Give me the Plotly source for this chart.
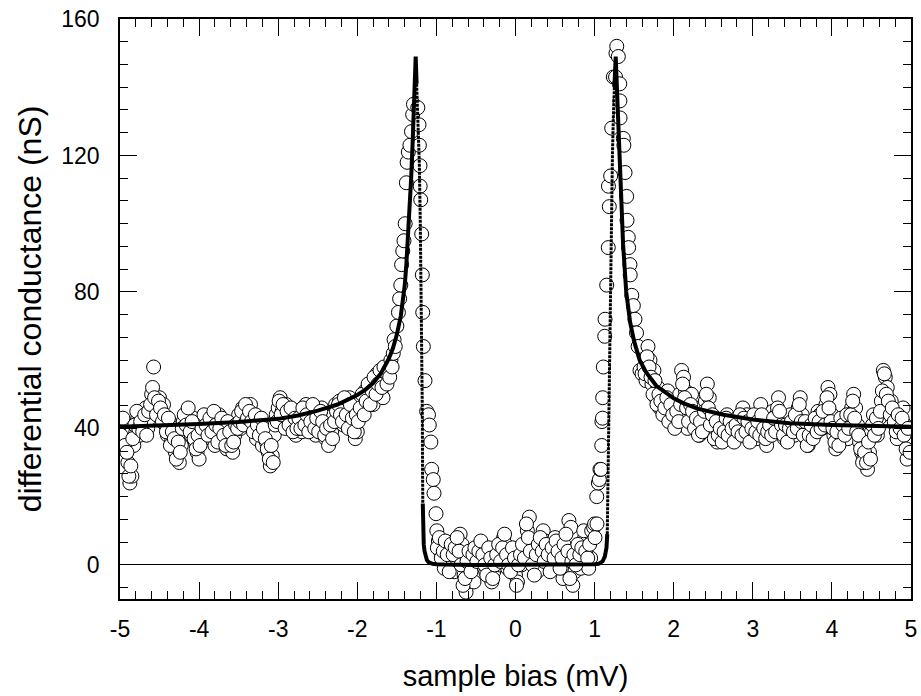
import plotly.graph_objects as go

# ---------------- data ----------------
# measured dI/dV, left background (mV, nS)
bias_left_tail = [
    -5.000, -4.975, -4.950, -4.925, -4.900, -4.875, -4.850, -4.825, -4.800, -4.775,
    -4.750, -4.725, -4.700, -4.675, -4.650, -4.625, -4.600, -4.575, -4.550, -4.525,
    -4.500, -4.475, -4.450, -4.425, -4.400, -4.375, -4.350, -4.325, -4.300, -4.275,
    -4.250, -4.225, -4.200, -4.175, -4.150, -4.125, -4.100, -4.075, -4.050, -4.025,
    -4.000, -3.975, -3.950, -3.925, -3.900, -3.875, -3.850, -3.825, -3.800, -3.775,
    -3.750, -3.725, -3.700, -3.675, -3.650, -3.625, -3.600, -3.575, -3.550, -3.525,
    -3.500, -3.475, -3.450, -3.425, -3.400, -3.375, -3.350, -3.325, -3.300, -3.275,
    -3.250, -3.225, -3.200, -3.175, -3.150, -3.125, -3.100, -3.075, -3.050, -3.025,
    -3.000, -2.975, -2.950, -2.925, -2.900, -2.875, -2.850, -2.825, -2.800, -2.775,
    -2.750, -2.725, -2.700, -2.675, -2.650, -2.625, -2.600, -2.575, -2.550, -2.525,
    -2.500, -2.475, -2.450, -2.425, -2.400, -2.375, -2.350, -2.325, -2.300, -2.275,
    -2.250, -2.225, -2.200, -2.175, -2.150, -2.125, -2.100, -2.075, -2.050, -2.025,
    -2.000, -1.975, -1.950, -1.925, -1.900, -1.875, -1.850, -1.825, -1.800, -1.775,
    -1.750, -1.725, -1.700, -1.675, -1.650,
]
cond_left_tail = [
    41, 37, 42, 36, 30, 24, 26, 35, 39, 43,
    38, 44, 41, 46, 40, 43, 50, 58, 47, 45,
    49, 44, 47, 41, 38, 42, 36, 40, 33, 38,
    30, 35, 42, 39, 44, 41, 38, 43, 36, 33,
    31, 37, 42, 39, 43, 40, 37, 42, 35, 39,
    44, 38, 41, 36, 34, 40, 37, 33, 38, 42,
    44, 40, 46, 43, 45, 41, 47, 44, 40, 37,
    42, 39, 35, 41, 36, 33, 29, 32, 38, 44,
    46, 49, 45, 42, 47, 43, 40, 44, 41, 38,
    45, 42, 39, 44, 47, 43, 40, 45, 42, 38,
    44, 41, 46, 40, 37, 42, 36, 39, 44, 47,
    43, 48, 45, 41, 46, 43, 49, 45, 41, 37,
    39, 44, 48, 46, 51, 49, 53, 50, 47, 52,
    56, 54, 51, 49, 55,
]
bias_left_tail_b = [
    -4.988, -4.963, -4.938, -4.913, -4.888, -4.863, -4.838, -4.813, -4.788, -4.763,
    -4.738, -4.713, -4.688, -4.663, -4.638, -4.613, -4.588, -4.563, -4.538, -4.513,
    -4.488, -4.463, -4.438, -4.413, -4.388, -4.363, -4.338, -4.313, -4.288, -4.263,
    -4.238, -4.213, -4.188, -4.163, -4.138, -4.113, -4.088, -4.063, -4.038, -4.013,
    -3.988, -3.963, -3.938, -3.913, -3.888, -3.863, -3.838, -3.813, -3.788, -3.763,
    -3.738, -3.713, -3.688, -3.663, -3.638, -3.613, -3.588, -3.563, -3.538, -3.513,
    -3.488, -3.463, -3.438, -3.413, -3.388, -3.363, -3.338, -3.313, -3.288, -3.263,
    -3.238, -3.213, -3.188, -3.163, -3.138, -3.113, -3.088, -3.063, -3.038, -3.013,
    -2.988, -2.963, -2.938, -2.913, -2.888, -2.863, -2.838, -2.813, -2.788, -2.763,
    -2.738, -2.713, -2.688, -2.663, -2.638, -2.613, -2.588, -2.563, -2.538, -2.513,
    -2.488, -2.463, -2.438, -2.413, -2.388, -2.363, -2.338, -2.313, -2.288, -2.263,
    -2.238, -2.213, -2.188, -2.163, -2.138, -2.113, -2.088, -2.063, -2.038, -2.013,
    -1.988, -1.963, -1.938, -1.913, -1.888, -1.863, -1.838, -1.813, -1.788, -1.763,
    -1.738, -1.713, -1.688, -1.663,
]
cond_left_tail_b = [
    38, 43, 35, 33, 26, 29, 37, 41, 45, 40,
    42, 39, 44, 38, 45, 47, 52, 49, 44, 48,
    46, 42, 44, 39, 43, 35, 39, 37, 31, 36,
    33, 40, 44, 41, 46, 39, 42, 37, 34, 38,
    35, 40, 44, 41, 38, 43, 39, 45, 41, 36,
    40, 43, 38, 35, 42, 39, 35, 36, 41, 40,
    42, 45, 41, 47, 43, 45, 42, 39, 44, 41,
    38, 43, 40, 37, 34, 31, 35, 30, 41, 42,
    48, 44, 47, 40, 45, 41, 46, 39, 43, 40,
    43, 40, 46, 41, 44, 39, 42, 47, 40, 43,
    39, 45, 42, 38, 40, 35, 41, 37, 42, 45,
    47, 44, 42, 49, 44, 40, 47, 43, 39, 44,
    42, 46, 50, 44, 48, 53, 47, 51, 55, 50,
    53, 57, 52, 58,
]

# measured dI/dV, left coherence peak
bias_left_peak = [
    -1.625, -1.600, -1.590, -1.575, -1.560, -1.545, -1.535, -1.520, -1.500, -1.480,
    -1.465, -1.450, -1.440, -1.425, -1.410, -1.395, -1.380, -1.370, -1.355, -1.335,
    -1.315, -1.300, -1.290, -1.235, -1.220, -1.215, -1.207, -1.205, -1.198, -1.186,
    -1.178, -1.173, -1.165, -1.144, -1.123, -1.100, -1.090, -1.070, -1.060, -1.040,
    -1.030, -1.005, -0.995,
]
cond_left_peak = [
    53, 57, 55, 60, 58, 62, 66, 64, 70, 74,
    78, 82, 88, 92, 95, 100, 112, 118, 121, 123,
    127, 132, 135, 134, 129, 123, 117, 111, 107, 97,
    85, 74, 64, 54, 45, 44, 41, 36, 28, 25,
    21, 15, 10,
]

# measured dI/dV, inside the gap
bias_gap = [
    -0.975, -0.950, -0.925, -0.900, -0.875, -0.850, -0.825, -0.800, -0.775, -0.750,
    -0.725, -0.700, -0.675, -0.650, -0.625, -0.600, -0.575, -0.550, -0.525, -0.500,
    -0.475, -0.450, -0.425, -0.400, -0.375, -0.350, -0.325, -0.300, -0.275, -0.250,
    -0.225, -0.200, -0.175, -0.150, -0.125, -0.100, -0.075, -0.050, -0.025, 0.000,
    0.025, 0.050, 0.075, 0.100, 0.125, 0.150, 0.175, 0.200, 0.225, 0.250,
    0.275, 0.300, 0.325, 0.350, 0.375, 0.400, 0.425, 0.450, 0.475, 0.500,
    0.525, 0.550, 0.575, 0.600, 0.625, 0.650, 0.675, 0.700, 0.725, 0.750,
    0.775, 0.800, 0.825, 0.850, 0.875, 0.900, 0.925, 0.950, 0.975,
]
cond_gap = [
    7, 4, 6, -1, 3, 6, 1, 4, -2, 2,
    5, 9, 6, -3, -8, -5, -1, 2, -5, 0,
    3, 6, 5, 1, -2, 3, 0, -5, -2, 2,
    4, 0, 3, 8, 6, -1, 2, 4, 1, -3,
    -5, 2, 0, 5, 4, 10, 14, 6, 3, -1,
    -2, 2, 5, 10, 7, 3, 1, 4, 0, 8,
    5, 2, 5, -4, -1, 3, 13, 11, -6, -2,
    5, 2, -1, 4, 8, 1, -1, 2, 8,
]
bias_gap_b = [
    -0.988, -0.963, -0.938, -0.913, -0.888, -0.863, -0.838, -0.813, -0.788, -0.763,
    -0.738, -0.713, -0.688, -0.663, -0.638, -0.613, -0.588, -0.563, -0.538, -0.513,
    -0.488, -0.463, -0.438, -0.413, -0.388, -0.363, -0.338, -0.313, -0.288, -0.263,
    -0.238, -0.213, -0.188, -0.163, -0.138, -0.113, -0.088, -0.063, -0.038, -0.013,
    0.013, 0.038, 0.063, 0.088, 0.113, 0.138, 0.163, 0.188, 0.213, 0.238,
    0.263, 0.288, 0.313, 0.338, 0.363, 0.388, 0.413, 0.438, 0.463, 0.488,
    0.513, 0.538, 0.563, 0.588, 0.613, 0.638, 0.663, 0.688, 0.713, 0.738,
    0.763, 0.788, 0.813, 0.838, 0.863, 0.888, 0.913, 0.938, 0.963, 0.988,
]
cond_gap_b = [
    5, 8, 2, 4, 7, 3, -2, 6, 3, 5,
    8, 4, 0, -6, -4, 1, 4, -2, 3, 5,
    1, 4, 7, 3, 0, -3, 5, 2, -4, 0,
    3, 6, 1, 5, 9, 3, 0, -2, 5, 2,
    -6, 0, 3, 6, 2, 12, 8, 4, 0, -3,
    3, 6, 8, 4, 1, 6, 3, -2, 5, 2,
    7, 4, -1, 2, 6, 9, 4, -4, 1, 3,
    0, 6, 3, 5, 10, 4, 2, 6, 10, 11,
]

# measured dI/dV, right coherence peak
bias_right_peak = [
    1.000, 1.005, 1.027, 1.030, 1.047, 1.060, 1.068, 1.080, 1.090, 1.092,
    1.100, 1.102, 1.110, 1.128, 1.132, 1.153, 1.173, 1.175, 1.186, 1.203,
    1.216, 1.237, 1.265, 1.270, 1.280, 1.300, 1.318, 1.320, 1.322, 1.363,
    1.370, 1.385, 1.405, 1.410, 1.426, 1.430, 1.447, 1.450, 1.470, 1.490,
    1.510, 1.530, 1.550, 1.574, 1.600,
]
cond_right_peak = [
    12, 8, 20, 12, 24, 25, 28, 28, 35, 42,
    43, 49, 58, 67, 72, 82, 93, 111, 105, 114,
    128, 143, 143, 150, 152, 149, 141, 136, 131, 125,
    123, 115, 108, 101, 96, 93, 88, 85, 79, 76,
    72, 68, 64, 57, 56,
]

# measured dI/dV, right background
bias_right_tail = [
    1.625, 1.650, 1.675, 1.700, 1.725, 1.750, 1.775, 1.800, 1.825, 1.850,
    1.875, 1.900, 1.925, 1.950, 1.975, 2.000, 2.025, 2.050, 2.075, 2.100,
    2.125, 2.150, 2.175, 2.200, 2.225, 2.250, 2.275, 2.300, 2.325, 2.350,
    2.375, 2.400, 2.425, 2.450, 2.475, 2.500, 2.525, 2.550, 2.575, 2.600,
    2.625, 2.650, 2.675, 2.700, 2.725, 2.750, 2.775, 2.800, 2.825, 2.850,
    2.875, 2.900, 2.925, 2.950, 2.975, 3.000, 3.025, 3.050, 3.075, 3.100,
    3.125, 3.150, 3.175, 3.200, 3.225, 3.250, 3.275, 3.300, 3.325, 3.350,
    3.375, 3.400, 3.425, 3.450, 3.475, 3.500, 3.525, 3.550, 3.575, 3.600,
    3.625, 3.650, 3.675, 3.700, 3.725, 3.750, 3.775, 3.800, 3.825, 3.850,
    3.875, 3.900, 3.925, 3.950, 3.975, 4.000, 4.025, 4.050, 4.075, 4.100,
    4.125, 4.150, 4.175, 4.200, 4.225, 4.250, 4.275, 4.300, 4.325, 4.350,
    4.375, 4.400, 4.425, 4.450, 4.475, 4.500, 4.525, 4.550, 4.575, 4.600,
    4.625, 4.650, 4.675, 4.700, 4.725, 4.750, 4.775, 4.800, 4.825, 4.850,
    4.875, 4.900, 4.925, 4.950, 4.975, 5.000,
]
cond_right_tail = [
    58, 54, 64, 60, 53, 57, 49, 52, 46, 46,
    48, 44, 51, 45, 42, 47, 41, 44, 50, 57,
    55, 51, 40, 44, 50, 43, 46, 41, 38, 44,
    40, 48, 53, 49, 43, 40, 39, 36, 41, 38,
    42, 40, 44, 41, 37, 39, 38, 43, 40, 42,
    46, 41, 44, 39, 42, 40, 43, 37, 41, 47,
    42, 39, 35, 38, 42, 45, 41, 44, 49, 43,
    40, 37, 42, 39, 44, 41, 38, 43, 46, 49,
    44, 40, 37, 35, 39, 42, 38, 41, 45, 44,
    40, 43, 47, 52, 50, 44, 38, 34, 37, 41,
    39, 43, 40, 37, 42, 46, 50, 46, 41, 36,
    33, 31, 35, 28, 33, 39, 44, 41, 38, 43,
    48, 57, 55, 52, 47, 48, 45, 41, 37, 42,
    39, 46, 41, 31, 38, 36,
]
bias_right_tail_b = [
    1.638, 1.663, 1.688, 1.713, 1.738, 1.763, 1.788, 1.813, 1.838, 1.863,
    1.888, 1.913, 1.938, 1.963, 1.988, 2.013, 2.038, 2.063, 2.088, 2.113,
    2.138, 2.163, 2.188, 2.213, 2.238, 2.263, 2.288, 2.313, 2.338, 2.363,
    2.388, 2.413, 2.438, 2.463, 2.488, 2.513, 2.538, 2.563, 2.588, 2.613,
    2.638, 2.663, 2.688, 2.713, 2.738, 2.763, 2.788, 2.813, 2.838, 2.863,
    2.888, 2.913, 2.938, 2.963, 2.988, 3.013, 3.038, 3.063, 3.088, 3.113,
    3.138, 3.163, 3.188, 3.213, 3.238, 3.263, 3.288, 3.313, 3.338, 3.363,
    3.388, 3.413, 3.438, 3.463, 3.488, 3.513, 3.538, 3.563, 3.588, 3.613,
    3.638, 3.663, 3.688, 3.713, 3.738, 3.763, 3.788, 3.813, 3.838, 3.863,
    3.888, 3.913, 3.938, 3.963, 3.988, 4.013, 4.038, 4.063, 4.088, 4.113,
    4.138, 4.163, 4.188, 4.213, 4.238, 4.263, 4.288, 4.313, 4.338, 4.363,
    4.388, 4.413, 4.438, 4.463, 4.488, 4.513, 4.538, 4.563, 4.588, 4.613,
    4.638, 4.663, 4.688, 4.713, 4.738, 4.763, 4.788, 4.813, 4.838, 4.863,
    4.888, 4.913, 4.938, 4.963, 4.988,
]
cond_right_tail_b = [
    56, 61, 58, 55, 50, 54, 47, 50, 48, 44,
    46, 49, 42, 47, 44, 40, 45, 42, 47, 53,
    49, 46, 42, 47, 45, 40, 43, 38, 42, 39,
    45, 50, 46, 41, 44, 37, 42, 38, 40, 36,
    39, 43, 38, 42, 40, 36, 41, 39, 44, 38,
    43, 39, 42, 36, 40, 44, 39, 42, 38, 44,
    40, 37, 39, 41, 38, 43, 39, 46, 45, 41,
    38, 41, 36, 40, 42, 39, 44, 40, 47, 42,
    38, 42, 35, 38, 41, 37, 43, 39, 42, 40,
    45, 41, 49, 46, 42, 40, 36, 39, 35, 43,
    41, 38, 44, 40, 44, 48, 43, 39, 38, 34,
    30, 33, 30, 36, 31, 41, 38, 43, 40, 45,
    51, 56, 50, 48, 44, 46, 42, 39, 44, 40,
    43, 38, 34, 40, 33,
]

# fitted curve
fit_bias = [
    -5.0, -4.5, -4.0, -3.5, -3.0, -2.75, -2.5, -2.25, -2.0, -1.9,
    -1.8, -1.7, -1.6, -1.55, -1.5, -1.45, -1.42, -1.40, -1.38, -1.36,
    -1.34, -1.32, -1.30, -1.285, -1.272, -1.262, -1.250, -1.240, -1.228, -1.216,
    -1.204, -1.195, -1.188, -1.182, -1.178, -1.175, -1.172, -1.168, -1.160, -1.150,
    -1.140, -1.120, -1.100, -1.080, -1.050, -1.000, -0.900, -0.500, 0.0, 0.500,
    0.900, 1.000, 1.050, 1.070, 1.100, 1.130, 1.150, 1.160, 1.165, 1.170,
    1.178, 1.188, 1.196, 1.203, 1.210, 1.216, 1.226, 1.237, 1.250, 1.267,
    1.280, 1.300, 1.330, 1.360, 1.400, 1.450, 1.500, 1.570, 1.650, 1.780,
    2.000, 2.120, 2.300, 2.630, 3.000, 3.470, 4.000, 4.500, 5.000,
]
fit_cond = [
    40.5, 40.8, 41.3, 41.9, 42.8, 43.8, 45.2, 47.0, 49.8, 51.3,
    53.3, 56.2, 60.5, 63.5, 67.5, 73, 78, 82, 88, 95,
    103, 113, 124, 134, 143, 149, 141, 135, 128, 118,
    101, 86, 72, 62, 45, 28, 18, 11, 6, 4,
    2.5, 1.4, 0.8, 0.5, 0.3, 0.2, 0.1, 0, 0, 0,
    0.1, 0.2, 0.3, 0.5, 1.0, 2.5, 5, 9, 18, 28,
    42, 55, 68, 82, 97, 110, 121, 131, 140, 149,
    141, 128, 111, 94, 80, 71, 65.5, 60, 56.5, 52.5,
    48.8, 47.4, 45.8, 44, 42.6, 41.5, 41, 40.7, 40.5,
]
# the steep gap-side flanks of the fit are drawn as a dotted chain
fit_flank_left = (26, 37)    # index range (start, stop) into fit arrays
fit_flank_right = (57, 69)

x_tick_values = [-5, -4, -3, -2, -1, 0, 1, 2, 3, 4, 5]
x_tick_labels = ["-5", "-4", "-3", "-2", "-1", "0", "1", "2", "3", "4", "5"]
y_tick_values = [0, 40, 80, 120, 160]
y_tick_labels = ["0", "40", "80", "120", "160"]

# ---------------- figure ----------------
bias_all = (bias_left_tail + bias_left_tail_b + bias_left_peak + bias_gap + bias_gap_b
            + bias_right_peak + bias_right_tail + bias_right_tail_b)
cond_all = (cond_left_tail + cond_left_tail_b + cond_left_peak + cond_gap + cond_gap_b
            + cond_right_peak + cond_right_tail + cond_right_tail_b)

FONT = "Liberation Sans, Arial, sans-serif"

fig = go.Figure()
fig.add_trace(go.Scatter(
    x=bias_all, y=cond_all, mode="markers", name="data",
    marker=dict(symbol="circle", size=14, color="white",
                line=dict(color="black", width=1)),
))

# thick parts of the fit
a0, a1 = fit_flank_left
b0, b1 = fit_flank_right
thick_segments = [(0, a0 + 1), (a1 - 1, b0 + 1), (b1 - 1, len(fit_bias))]
for s, e in thick_segments:
    fig.add_trace(go.Scatter(
        x=fit_bias[s:e], y=fit_cond[s:e], mode="lines", name="fit",
        line=dict(color="black", width=4), showlegend=False,
    ))
for s, e in (fit_flank_left, fit_flank_right):
    fig.add_trace(go.Scatter(
        x=fit_bias[s:e], y=fit_cond[s:e], mode="lines", name="fit",
        line=dict(color="black", width=3, dash="3px,1px"), showlegend=False,
    ))

axis_common = dict(
    showline=True, linecolor="black", linewidth=1.5, mirror="ticks",
    ticks="inside", ticklen=17, tickwidth=1.3, tickcolor="black",
    showgrid=False, tickfont=dict(family=FONT, size=23, color="black"),
    tickmode="array",
)

fig.update_xaxes(
    **axis_common, range=[-5, 5], zeroline=False,
    tickvals=x_tick_values, ticktext=x_tick_labels,
    minor=dict(tickmode="linear", tick0=-5, dtick=0.2, ticks="inside",
               ticklen=8, tickwidth=1.3, tickcolor="black", showgrid=False),
    ticklabelstandoff=9,
    title=dict(text="sample bias (mV)", font=dict(family=FONT, size=29, color="black"),
               standoff=24),
)
fig.update_yaxes(
    **axis_common, range=[-10, 160],
    zeroline=True, zerolinecolor="black", zerolinewidth=1.2,
    tickvals=y_tick_values, ticktext=y_tick_labels,
    minor=dict(tickmode="linear", tick0=0, dtick=40 / 6, ticks="inside",
               ticklen=8, tickwidth=1.3, tickcolor="black", showgrid=False),
    ticklabelstandoff=14,
    title=dict(text="differential conductance (nS)",
               font=dict(family=FONT, size=32, color="black"), standoff=10),
)
fig.update_layout(
    width=921, height=696,
    margin=dict(l=120, r=10, t=19, b=97, autoexpand=False),
    paper_bgcolor="white", plot_bgcolor="white",
    showlegend=False,
    font=dict(family=FONT, color="black"),
)

fig.write_html("out.html")
